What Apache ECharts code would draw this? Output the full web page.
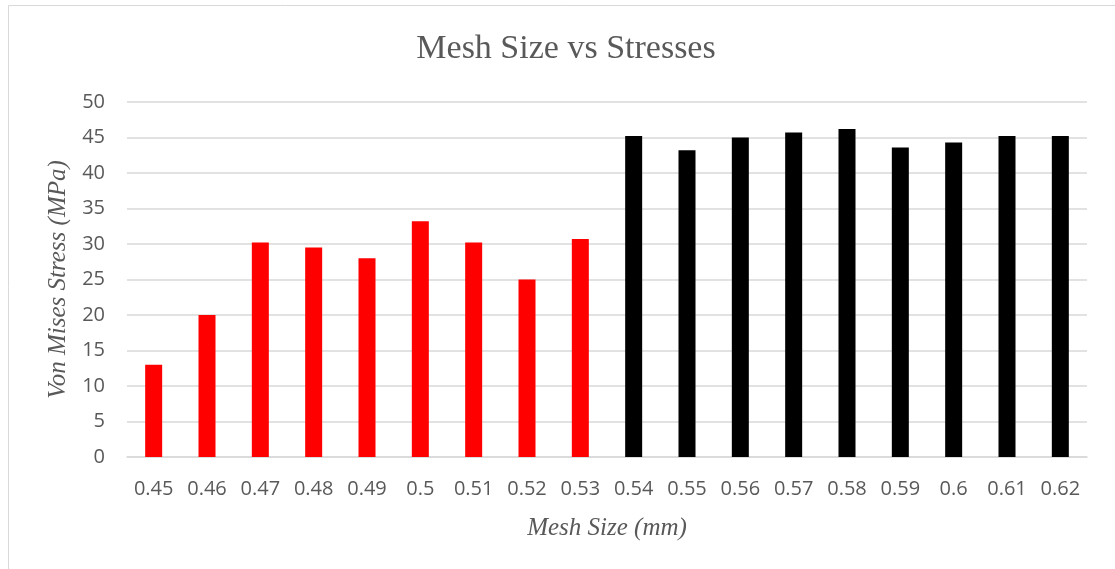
<!DOCTYPE html>
<html>
<head>
<meta charset="utf-8">
<script src="https://cdn.jsdelivr.net/npm/echarts@6/dist/echarts.min.js"></script>
<style>
  html, body { margin: 0; padding: 0; background: #ffffff; }
  #chart { width: 1115px; height: 569px; }
</style>
</head>
<body>
<div id="chart"></div>
<script>
// Mesh sizes (mm) used in the convergence study
const meshSizes = ['0.45', '0.46', '0.47', '0.48', '0.49', '0.5', '0.51', '0.52', '0.53',
                   '0.54', '0.55', '0.56', '0.57', '0.58', '0.59', '0.6', '0.61', '0.62'];
// Peak von Mises stress (MPa) for each mesh size
const vonMisesStress = [13.0, 20.0, 30.2, 29.5, 28.0, 33.2, 30.2, 25.0, 30.7,
                        45.2, 43.2, 45.0, 45.7, 46.2, 43.6, 44.3, 45.2, 45.2];
// Group of each run: 'low' runs drawn red, 'stable' runs drawn black
const runGroup = ['low', 'low', 'low', 'low', 'low', 'low', 'low', 'low', 'low',
                  'stable', 'stable', 'stable', 'stable', 'stable', 'stable', 'stable', 'stable', 'stable'];
// Value axis ticks
const stressTicks = { min: 0, max: 50, interval: 5 };

const groupColor = { low: '#ff0000', stable: '#000000' };
const labelColor = '#595959';
const gridColor = '#d9d9d9';

const chart = echarts.init(document.getElementById('chart'), null, { renderer: 'canvas' });

chart.setOption({
  animation: false,
  backgroundColor: '#ffffff',
  graphic: [{
    type: 'rect',
    shape: { x: 8.5, y: 5.5, width: 1300, height: 800 },
    style: { fill: 'none', stroke: '#d9d9d9', lineWidth: 1 },
    silent: true
  }],
  title: {
    text: 'Mesh Size vs Stresses',
    left: 561,
    textAlign: 'center',
    top: 27,
    textStyle: {
      fontFamily: '"Liberation Serif", "Times New Roman", serif',
      fontWeight: 'normal',
      fontSize: 34,
      color: labelColor
    }
  },
  grid: { left: 127, right: 28, top: 102, bottom: 112, containLabel: false },
  xAxis: {
    type: 'category',
    data: meshSizes,
    name: 'Mesh Size (mm)',
    nameLocation: 'middle',
    nameGap: 59,
    nameTextStyle: {
      fontFamily: '"Liberation Serif", "Times New Roman", serif',
      fontStyle: 'italic',
      fontSize: 25,
      color: labelColor
    },
    axisLine: { show: true, lineStyle: { color: gridColor, width: 1.5 } },
    axisTick: { show: false },
    axisLabel: {
      interval: 0,
      margin: 22,
      fontFamily: '"Open Sans", "Noto Sans", sans-serif',
      fontSize: 20,
      color: labelColor
    }
  },
  yAxis: {
    type: 'value',
    min: stressTicks.min,
    max: stressTicks.max,
    interval: stressTicks.interval,
    name: 'Von Mises Stress (MPa)',
    nameLocation: 'middle',
    nameGap: 54,
    nameTextStyle: {
      fontFamily: '"Liberation Serif", "Times New Roman", serif',
      fontStyle: 'italic',
      fontSize: 25,
      color: labelColor
    },
    axisLine: { show: false },
    axisTick: { show: false },
    splitLine: { lineStyle: { color: gridColor, width: 1.5 } },
    axisLabel: {
      margin: 22,
      fontFamily: '"Open Sans", "Noto Sans", sans-serif',
      fontSize: 20,
      color: labelColor
    }
  },
  series: [{
    type: 'bar',
    barWidth: 17,
    data: vonMisesStress.map((v, i) => ({
      value: v,
      itemStyle: { color: groupColor[runGroup[i]] }
    }))
  }]
});
</script>
</body>
</html>
